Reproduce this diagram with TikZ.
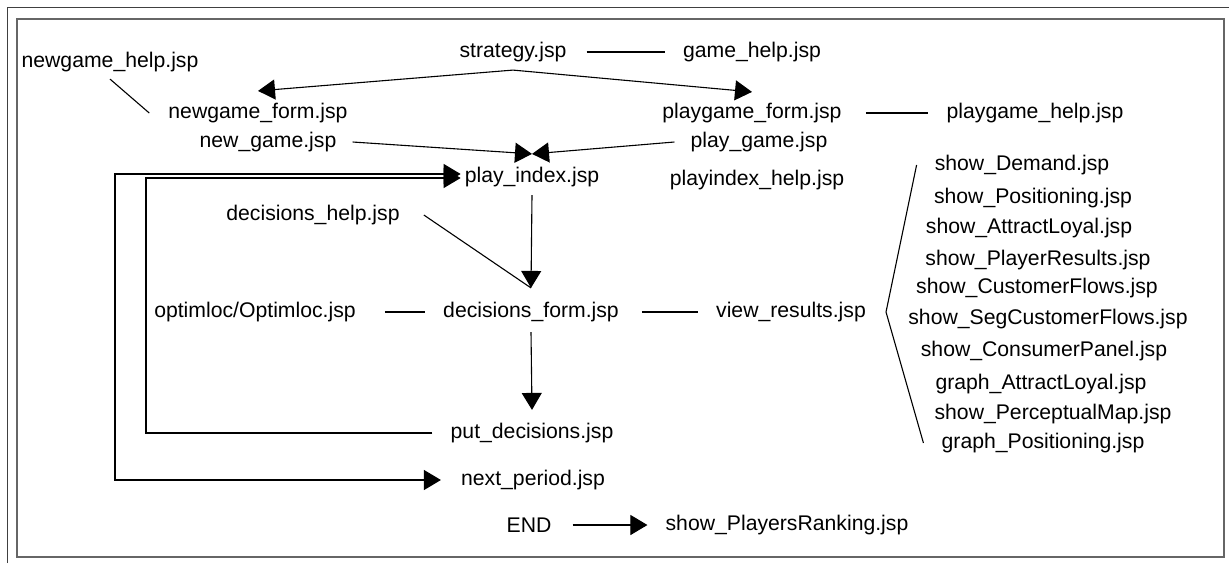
\documentclass[tikz,border=0pt]{standalone}
\usepackage{fontspec}
\newfontfamily\jspfont{Liberation Sans}
\usetikzlibrary{calc}
\usetikzlibrary{arrows.meta}

\begin{document}
\begin{tikzpicture}[x=1pt,y=-1pt,
  page/.style={font=\jspfont\fontsize{21.2}{23}\selectfont, inner sep=2pt},
  link/.style={black, line width=1.1pt},
  arr/.style={link, -{Triangle[length=17pt,width=20pt]}},
  both/.style={link, {Triangle[length=17pt,width=20pt]}-{Triangle[length=17pt,width=20pt]}}]

\useasboundingbox (0,0) rectangle (1229,563);
\draw[black!75, line width=1pt] (7,563)--(7,7)--(1229,7);
\draw[black!60, line width=1.3pt] (17,19) rectangle (1224,557);

\node[page] (nghelp) at (110,62) {newgame\_help.jsp};
\node[page] (strategy) at (513,52) {strategy.jsp};
\node[page] (gamehelp) at (752,52) {game\_help.jsp};
\node[page] (ngform) at (258,113) {newgame\_form.jsp};
\node[page] (pgform) at (752,113) {playgame\_form.jsp};
\node[page] (pghelp) at (1035,113) {playgame\_help.jsp};
\node[page] (newgame) at (268,142) {new\_game.jsp};
\node[page] (playgame) at (759,142) {play\_game.jsp};
\node[page] (playindex) at (532,177) {play\_index.jsp};
\node[page] (pihelp) at (757,180) {playindex\_help.jsp};
\node[page] (dechelp) at (313,215) {decisions\_help.jsp};
\node[page] (optimloc) at (255,312) {optimloc/Optimloc.jsp};
\node[page] (decform) at (531,312) {decisions\_form.jsp};
\node[page] (viewres) at (791,312) {view\_results.jsp};
\node[page] (putdec) at (532,433) {put\_decisions.jsp};
\node[page] (nextper) at (533,480) {next\_period.jsp};
\node[page] (theend) at (529,525) {END};
\node[page] (ranking) at (787,525) {show\_PlayersRanking.jsp};

\foreach \n/\x/\y/\t in {1/1022/165/show\_Demand.jsp, 2/1033/198/show\_Positioning.jsp,
  3/1029/228/show\_AttractLoyal.jsp, 4/1038/260/show\_PlayerResults.jsp,
  5/1037/288/show\_CustomerFlows.jsp, 6/1048/319/show\_SegCustomerFlows.jsp,
  7/1044/351/show\_ConsumerPanel.jsp, 8/1041/384/graph\_AttractLoyal.jsp,
  9/1053/414/show\_PerceptualMap.jsp, 10/1043/443/graph\_Positioning.jsp}
  \node[page] (s\n) at (\x,\y) {\t};

\coordinate (split) at ([yshift=-6pt]strategy.south);
\coordinate (meet) at ([yshift=11pt]playindex.north);
\coordinate (pin) at ([xshift=-2pt,yshift=-1pt]playindex.west);
\coordinate (pout) at ([xshift=-2pt,yshift=3pt]playindex.west);
\coordinate (inner) at (146,0);
\coordinate (outer) at (115,0);
\coordinate (dectip) at ([yshift=12pt]decform.north);

\draw[link, shorten <=18pt, shorten >=16pt] (strategy) -- (gamehelp);
\draw[arr] (split) -- ([yshift=10pt]ngform.north);
\draw[arr] (split) -- ([yshift=9pt]pgform.north);
\draw[link] ([yshift=-5pt]nghelp.south) -- ([xshift=-17pt]ngform.west);
\draw[link, shorten <=22pt, shorten >=16pt] (pgform) -- (pghelp);

\draw[arr] ([xshift=14pt]newgame.east) -- (meet);
\draw[arr] ([xshift=-14pt]playgame.west) -- (meet);

\draw[arr] ([xshift=-16pt]putdec.west) -- (putdec.west -| inner) -- (pin -| inner) -- (pin);
\draw[both] (pout) -- (pout -| outer) -- (nextper.west -| outer) -- ([xshift=-18pt]nextper.west);

\draw[arr] ([yshift=-6pt]playindex.south) -- (dectip);
\draw[link] ([xshift=22pt]dechelp.east) -- (dectip);
\draw[link, shorten <=27pt, shorten >=16pt] (optimloc) -- (decform);
\draw[arr] ([yshift=-8pt]decform.south) -- ([yshift=11pt]putdec.north);
\draw[link, shorten <=21pt, shorten >=16pt] (decform) -- (viewres);
\draw[link] ([xshift=-16pt]s1.west) -- ([xshift=18pt]viewres.east) -- ([xshift=-16pt]s10.west);
\draw[arr, shorten <=19pt, shorten >=16pt] (theend) -- (ranking);

\end{tikzpicture}
\end{document}
